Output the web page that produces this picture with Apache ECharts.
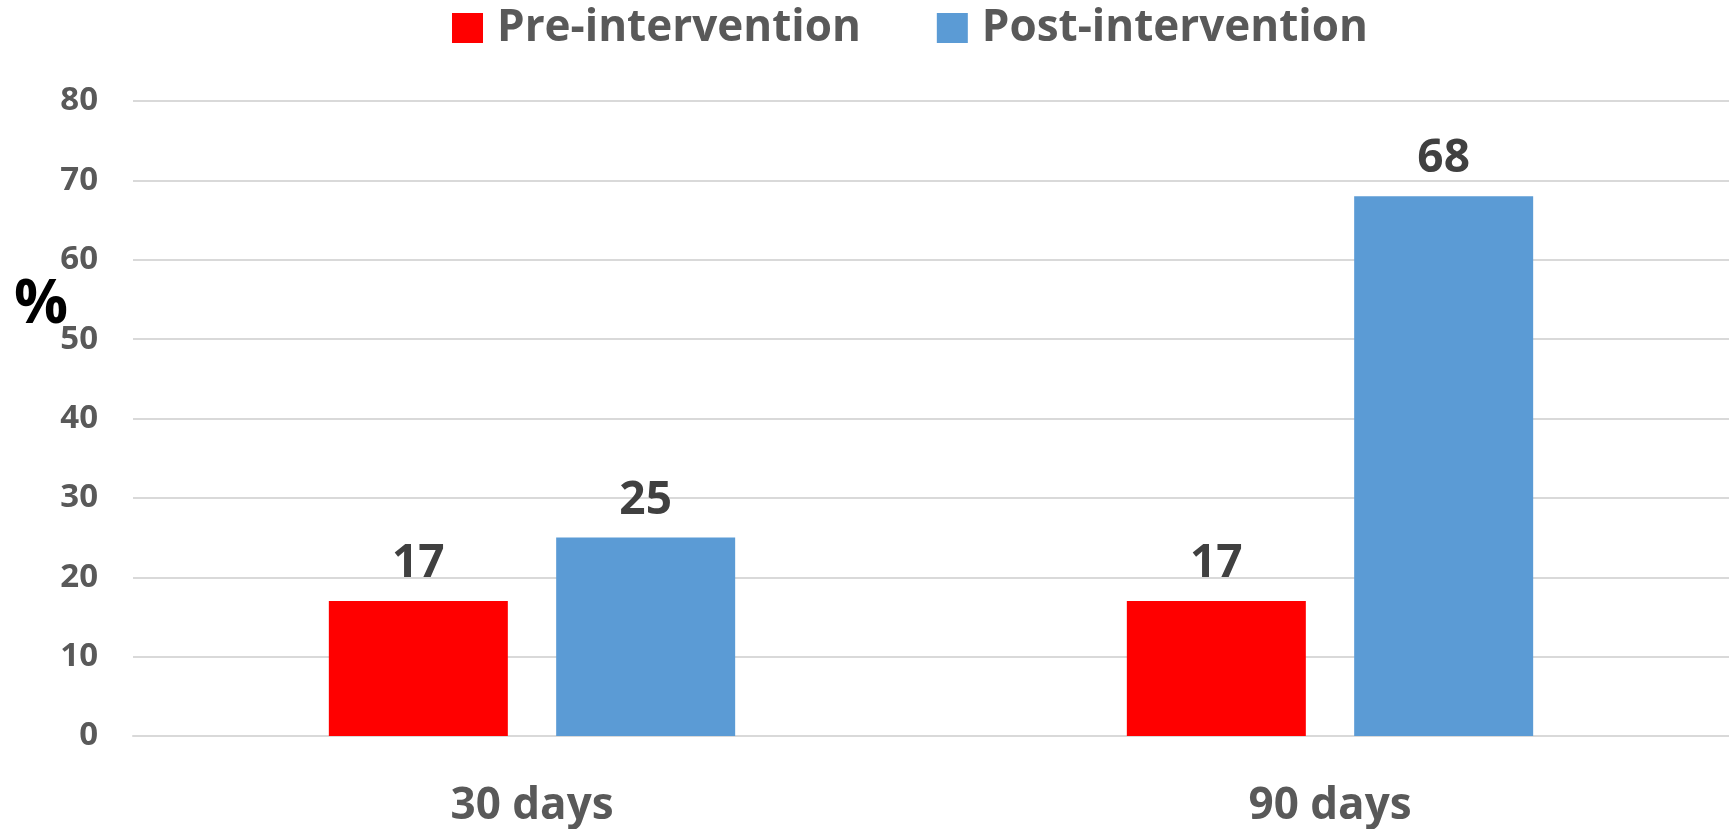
<!DOCTYPE html>
<html>
<head>
<meta charset="utf-8">
<script src="https://cdn.jsdelivr.net/npm/echarts@6/dist/echarts.min.js"></script>
<style>
  html, body { margin: 0; padding: 0; background: #ffffff; }
  #chart { width: 1729px; height: 829px; }
</style>
</head>
<body>
<div id="chart"></div>
<script>
// Share of patients (%) before and after the intervention, by follow-up period
const categories = ['30 days', '90 days'];
const preIntervention = [17, 17];
const postIntervention = [25, 68];
const yTicks = { min: 0, max: 80, step: 10 };

const FONT = '"Open Sans", "Noto Sans", sans-serif';

const chart = echarts.init(document.getElementById('chart'));

const valueLabel = {
  show: true,
  position: 'top',
  distance: 14,
  color: '#404040',
  fontFamily: FONT,
  fontWeight: 'bold',
  fontSize: 46
};

chart.setOption({
  backgroundColor: '#ffffff',
  animation: false,
  legend: {
    top: 1,
    left: 447,
    itemWidth: 31,
    itemHeight: 30,
    itemGap: 76,
    icon: 'rect',
    textStyle: {
      color: '#595959',
      fontFamily: FONT,
      fontWeight: 'bold',
      fontSize: 44,
      padding: [0, 0, 0, 9]
    },
    data: ['Pre-intervention', 'Post-intervention']
  },
  grid: { left: 133, right: 0, top: 101, bottom: 93, containLabel: false },
  xAxis: {
    type: 'category',
    data: categories,
    axisLine: { show: true, lineStyle: { color: '#d9d9d9', width: 2 } },
    axisTick: { show: false },
    axisLabel: {
      margin: 48,
      color: '#595959',
      fontFamily: FONT,
      fontWeight: 'bold',
      fontSize: 44
    }
  },
  yAxis: {
    type: 'value',
    min: yTicks.min,
    max: yTicks.max,
    interval: yTicks.step,
    axisLine: { show: false },
    axisTick: { show: false },
    splitLine: { lineStyle: { color: '#d9d9d9', width: 2 } },
    axisLabel: {
      margin: 35,
      color: '#595959',
      fontFamily: FONT,
      fontWeight: 'bold',
      fontSize: 33
    }
  },
  graphic: [{
    type: 'text',
    left: 14,
    top: 276,
    style: {
      text: '%',
      fill: '#000000',
      font: 'bold 60px ' + FONT
    }
  }],
  series: [
    {
      name: 'Pre-intervention',
      type: 'bar',
      data: preIntervention,
      barWidth: 179,
      barGap: '27%',
      itemStyle: { color: '#ff0000' },
      label: valueLabel
    },
    {
      name: 'Post-intervention',
      type: 'bar',
      data: postIntervention,
      barWidth: 179,
      barGap: '27%',
      itemStyle: { color: '#5b9bd5' },
      label: valueLabel
    }
  ]
});
</script>
</body>
</html>
